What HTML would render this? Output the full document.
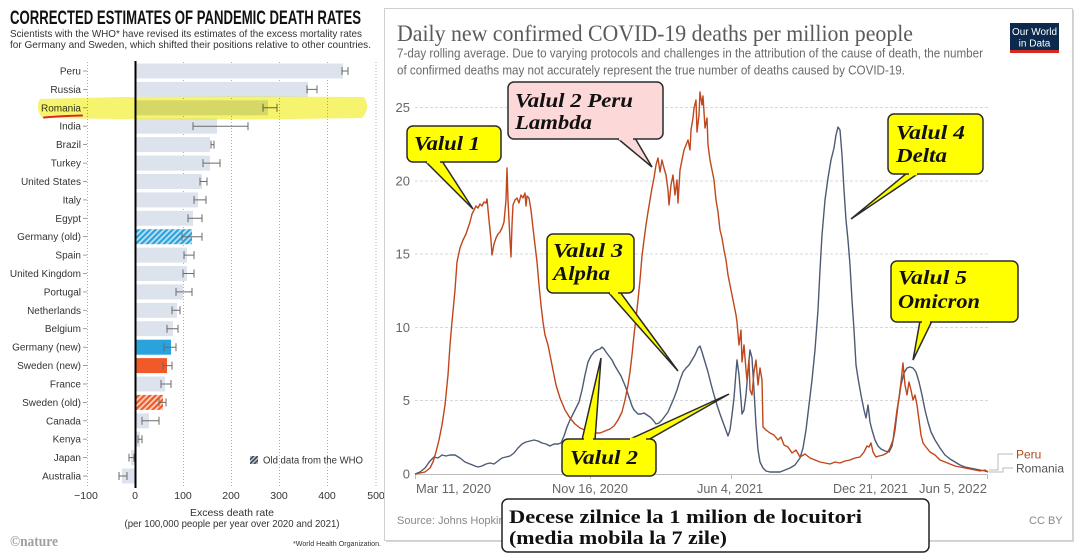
<!DOCTYPE html>
<html><head><meta charset="utf-8">
<style>
html,body{margin:0;padding:0;background:#fff;}
svg{display:block;}
.lab{font-family:"Liberation Sans",sans-serif;font-size:10px;fill:#333;text-anchor:end;}
.bar{fill:#dde3ec;}
.err{stroke:#6b6b6b;stroke-width:1;fill:none;}
.tk{stroke:#888;stroke-width:0.8;}
.co{font-family:"Liberation Serif",serif;font-weight:bold;font-style:italic;font-size:20px;fill:#111;}
.box{stroke:#2a2a2a;stroke-width:1.5;}
.hl{mix-blend-mode:multiply;}
</style></head><body>
<svg width="1080" height="556" viewBox="0 0 1080 556" xmlns="http://www.w3.org/2000/svg">
<defs>
<pattern id="hb" width="4" height="4" patternUnits="userSpaceOnUse" patternTransform="rotate(45)"><rect width="4" height="4" fill="#bfe2f4"/><rect width="2.2" height="4" fill="#2aa2dc"/></pattern>
<pattern id="ho" width="4" height="4" patternUnits="userSpaceOnUse" patternTransform="rotate(45)"><rect width="4" height="4" fill="#fcd2c2"/><rect width="2.2" height="4" fill="#f05a28"/></pattern>
<pattern id="hg" width="3" height="3" patternUnits="userSpaceOnUse" patternTransform="rotate(45)"><rect width="3" height="3" fill="#c9ced8"/><rect width="1.6" height="3" fill="#3d4556"/></pattern>
</defs>
<rect width="1080" height="556" fill="#fff"/>

<!-- ============ LEFT PANEL ============ -->
<text x="10" y="24" font-family="Liberation Sans Narrow, Liberation Sans, sans-serif" font-weight="bold" font-size="19" fill="#111" textLength="351" lengthAdjust="spacingAndGlyphs">CORRECTED ESTIMATES OF PANDEMIC DEATH RATES</text>
<text x="10" y="37" font-family="Liberation Sans, sans-serif" font-size="10.5" fill="#333" textLength="352" lengthAdjust="spacingAndGlyphs">Scientists with the WHO* have revised its estimates of the excess mortality rates</text>
<text x="10" y="48" font-family="Liberation Sans, sans-serif" font-size="10.5" fill="#333" textLength="361" lengthAdjust="spacingAndGlyphs">for Germany and Sweden, which shifted their positions relative to other countries.</text>

<!-- grid -->
<g stroke="#9a9a9a" stroke-width="0.8" stroke-dasharray="1,2">
<line x1="87.5" y1="62" x2="87.5" y2="487"/>
<line x1="183.5" y1="62" x2="183.5" y2="487"/>
<line x1="231.5" y1="62" x2="231.5" y2="487"/>
<line x1="279.5" y1="62" x2="279.5" y2="487"/>
<line x1="327.5" y1="62" x2="327.5" y2="487"/>
<line x1="376" y1="62" x2="376" y2="487"/>
</g>

<!-- rows -->
<g transform="translate(0,71)"><text class="lab" x="81" y="3.5">Peru</text><path class="tk" d="M83 0H87"/><rect class="bar" x="135" y="-7.5" width="208" height="15"/><path class="err" d="M342 0H348M342 -4V4M348 -4V4"/></g>
<g transform="translate(0,89.4)"><text class="lab" x="81" y="3.5">Russia</text><path class="tk" d="M83 0H87"/><rect class="bar" x="135" y="-7.5" width="173" height="15"/><path class="err" d="M307 0H317M307 -4V4M317 -4V4"/></g>
<g transform="translate(0,107.8)"><text class="lab" x="81" y="3.5">Romania</text><path class="tk" d="M83 0H87"/><rect class="bar" x="135" y="-7.5" width="133" height="15"/><path class="err" d="M263 0H277M263 -4V4M277 -4V4"/></g>
<g transform="translate(0,126.2)"><text class="lab" x="81" y="3.5">India</text><path class="tk" d="M83 0H87"/><rect class="bar" x="135" y="-7.5" width="82" height="15"/><path class="err" d="M193 0H248M193 -4V4M248 -4V4"/></g>
<g transform="translate(0,144.6)"><text class="lab" x="81" y="3.5">Brazil</text><path class="tk" d="M83 0H87"/><rect class="bar" x="135" y="-7.5" width="75" height="15"/><path class="err" d="M211 0H214M211 -4V4M214 -4V4"/></g>
<g transform="translate(0,163.1)"><text class="lab" x="81" y="3.5">Turkey</text><path class="tk" d="M83 0H87"/><rect class="bar" x="135" y="-7.5" width="75" height="15"/><path class="err" d="M203 0H220M203 -4V4M220 -4V4"/></g>
<g transform="translate(0,181.5)"><text class="lab" x="81" y="3.5">United States</text><path class="tk" d="M83 0H87"/><rect class="bar" x="135" y="-7.5" width="67" height="15"/><path class="err" d="M200 0H207M200 -4V4M207 -4V4"/></g>
<g transform="translate(0,199.9)"><text class="lab" x="81" y="3.5">Italy</text><path class="tk" d="M83 0H87"/><rect class="bar" x="135" y="-7.5" width="63" height="15"/><path class="err" d="M194 0H206M194 -4V4M206 -4V4"/></g>
<g transform="translate(0,218.3)"><text class="lab" x="81" y="3.5">Egypt</text><path class="tk" d="M83 0H87"/><rect class="bar" x="135" y="-7.5" width="58" height="15"/><path class="err" d="M188 0H202M188 -4V4M202 -4V4"/></g>
<g transform="translate(0,236.7)"><text class="lab" x="81" y="3.5">Germany (old)</text><path class="tk" d="M83 0H87"/><rect x="135" y="-7.5" width="57" height="15" fill="url(#hb)"/><path class="err" d="M182 0H202M182 -4V4M202 -4V4"/></g>
<g transform="translate(0,255.1)"><text class="lab" x="81" y="3.5">Spain</text><path class="tk" d="M83 0H87"/><rect class="bar" x="135" y="-7.5" width="52" height="15"/><path class="err" d="M184 0H194M184 -4V4M194 -4V4"/></g>
<g transform="translate(0,273.5)"><text class="lab" x="81" y="3.5">United Kingdom</text><path class="tk" d="M83 0H87"/><rect class="bar" x="135" y="-7.5" width="52" height="15"/><path class="err" d="M183 0H194M183 -4V4M194 -4V4"/></g>
<g transform="translate(0,291.9)"><text class="lab" x="81" y="3.5">Portugal</text><path class="tk" d="M83 0H87"/><rect class="bar" x="135" y="-7.5" width="48" height="15"/><path class="err" d="M176 0H192M176 -4V4M192 -4V4"/></g>
<g transform="translate(0,310.3)"><text class="lab" x="81" y="3.5">Netherlands</text><path class="tk" d="M83 0H87"/><rect class="bar" x="135" y="-7.5" width="42" height="15"/><path class="err" d="M172 0H180M172 -4V4M180 -4V4"/></g>
<g transform="translate(0,328.7)"><text class="lab" x="81" y="3.5">Belgium</text><path class="tk" d="M83 0H87"/><rect class="bar" x="135" y="-7.5" width="38" height="15"/><path class="err" d="M167 0H178M167 -4V4M178 -4V4"/></g>
<g transform="translate(0,347.2)"><text class="lab" x="81" y="3.5">Germany (new)</text><path class="tk" d="M83 0H87"/><rect x="135" y="-7.5" width="36" height="15" fill="#2aa2dc"/><path class="err" d="M164 0H176M164 -4V4M176 -4V4"/></g>
<g transform="translate(0,365.6)"><text class="lab" x="81" y="3.5">Sweden (new)</text><path class="tk" d="M83 0H87"/><rect x="135" y="-7.5" width="32" height="15" fill="#f05a28"/><path class="err" d="M163 0H172M163 -4V4M172 -4V4"/></g>
<g transform="translate(0,384)"><text class="lab" x="81" y="3.5">France</text><path class="tk" d="M83 0H87"/><rect class="bar" x="135" y="-7.5" width="30" height="15"/><path class="err" d="M161 0H171M161 -4V4M171 -4V4"/></g>
<g transform="translate(0,402.4)"><text class="lab" x="81" y="3.5">Sweden (old)</text><path class="tk" d="M83 0H87"/><rect x="135" y="-7.5" width="28" height="15" fill="url(#ho)"/><path class="err" d="M159 0H166M159 -4V4M166 -4V4"/></g>
<g transform="translate(0,420.8)"><text class="lab" x="81" y="3.5">Canada</text><path class="tk" d="M83 0H87"/><rect class="bar" x="135" y="-7.5" width="14" height="15"/><path class="err" d="M142 0H159M142 -4V4M159 -4V4"/></g>
<g transform="translate(0,439.2)"><text class="lab" x="81" y="3.5">Kenya</text><path class="tk" d="M83 0H87"/><rect class="bar" x="135" y="-7.5" width="5" height="15"/><path class="err" d="M138 0H142M138 -4V4M142 -4V4"/></g>
<g transform="translate(0,457.6)"><text class="lab" x="81" y="3.5">Japan</text><path class="tk" d="M83 0H87"/><rect class="bar" x="131" y="-7.5" width="4" height="15"/><path class="err" d="M129 0H134M129 -4V4M134 -4V4"/></g>
<g transform="translate(0,476)"><text class="lab" x="81" y="3.5">Australia</text><path class="tk" d="M83 0H87"/><rect class="bar" x="122" y="-7.5" width="13" height="15"/><path class="err" d="M119 0H127M119 -4V4M127 -4V4"/></g>

<!-- zero line -->
<line x1="135.5" y1="61" x2="135.5" y2="488" stroke="#000" stroke-width="2"/>

<!-- highlighter -->
<path class="hl" d="M40 99 Q35 108 42 118 L120 119 L250 119.5 L362 118 Q371 108 364 97 L250 96.5 L120 97 Z" fill="#f4f04a" opacity="0.8"/>
<path d="M44 117.5 Q60 116 82 115.5" stroke="#e02222" stroke-width="2" fill="none" stroke-linecap="round"/>

<!-- x tick labels -->
<g font-family="Liberation Sans, sans-serif" font-size="10.5" fill="#333" text-anchor="middle">
<text x="86" y="499">−100</text><text x="135" y="499">0</text><text x="183" y="499">100</text><text x="231" y="499">200</text><text x="279" y="499">300</text><text x="327" y="499">400</text><text x="376" y="499">500</text>
<text x="232" y="516">Excess death rate</text>
<text x="232" y="527" textLength="215" lengthAdjust="spacingAndGlyphs">(per 100,000 people per year over 2020 and 2021)</text>
</g>
<!-- legend -->
<rect x="250" y="456" width="8" height="8" fill="url(#hg)"/>
<text x="263" y="463.5" font-family="Liberation Sans, sans-serif" font-size="10" fill="#333" textLength="100" lengthAdjust="spacingAndGlyphs">Old data from the WHO</text>
<text x="10" y="546" font-family="Liberation Serif, serif" font-weight="bold" font-size="15" fill="#a0a0a0" textLength="48" lengthAdjust="spacingAndGlyphs">©nature</text>
<text x="293" y="546" font-family="Liberation Sans, sans-serif" font-size="7" fill="#333" textLength="88" lengthAdjust="spacingAndGlyphs">*World Health Organization.</text>

<!-- ============ RIGHT PANEL ============ -->
<rect x="386" y="10" width="688" height="532" fill="#d6d6d6"/>
<rect x="384.5" y="8.5" width="688" height="532" fill="#fff" stroke="#d0d0d0" stroke-width="1"/>

<text x="397" y="41" font-family="Liberation Serif, serif" font-size="23.5" fill="#5a5a5a" textLength="516" lengthAdjust="spacingAndGlyphs">Daily new confirmed COVID-19 deaths per million people</text>
<text x="397" y="57.5" font-family="Liberation Sans, sans-serif" font-size="12.5" fill="#6a6a6a" textLength="586" lengthAdjust="spacingAndGlyphs">7-day rolling average. Due to varying protocols and challenges in the attribution of the cause of death, the number</text>
<text x="397" y="74.5" font-family="Liberation Sans, sans-serif" font-size="12.5" fill="#6a6a6a" textLength="508" lengthAdjust="spacingAndGlyphs">of confirmed deaths may not accurately represent the true number of deaths caused by COVID-19.</text>

<!-- OWID logo -->
<rect x="1010" y="23" width="49" height="30" fill="#0b2a4e"/>
<rect x="1010" y="50" width="49" height="3" fill="#d42b21"/>
<text x="1034.5" y="35" font-family="Liberation Sans, sans-serif" font-size="10" fill="#fff" text-anchor="middle" textLength="45" lengthAdjust="spacingAndGlyphs">Our World</text>
<text x="1034.5" y="46.5" font-family="Liberation Sans, sans-serif" font-size="10" fill="#fff" text-anchor="middle">in Data</text>

<!-- grid -->
<g stroke="#d8d8d8" stroke-width="1" stroke-dasharray="3,2">
<line x1="415" y1="107.5" x2="988" y2="107.5"/>
<line x1="415" y1="181" x2="988" y2="181"/>
<line x1="415" y1="254" x2="988" y2="254"/>
<line x1="415" y1="327.5" x2="988" y2="327.5"/>
<line x1="415" y1="400.5" x2="988" y2="400.5"/>
</g>
<line x1="415" y1="474.5" x2="988" y2="474.5" stroke="#bbb" stroke-width="1"/>
<g stroke="#bbb"><line x1="590.5" y1="474" x2="590.5" y2="479"/><line x1="731.5" y1="474" x2="731.5" y2="479"/><line x1="871.5" y1="474" x2="871.5" y2="479"/><line x1="987.5" y1="474" x2="987.5" y2="479"/><line x1="415.5" y1="474" x2="415.5" y2="479"/></g>
<g font-family="Liberation Sans, sans-serif" font-size="13" fill="#666" text-anchor="end">
<text x="410" y="112">25</text><text x="410" y="185.5">20</text><text x="410" y="258.5">15</text><text x="410" y="332">10</text><text x="410" y="405">5</text><text x="410" y="478.5">0</text>
</g>
<g font-family="Liberation Sans, sans-serif" font-size="12.5" fill="#666">
<text x="416" y="493" textLength="75" lengthAdjust="spacingAndGlyphs">Mar 11, 2020</text>
<text x="552" y="493" textLength="76" lengthAdjust="spacingAndGlyphs">Nov 16, 2020</text>
<text x="697" y="493" textLength="66" lengthAdjust="spacingAndGlyphs">Jun 4, 2021</text>
<text x="833" y="493" textLength="75" lengthAdjust="spacingAndGlyphs">Dec 21, 2021</text>
<text x="919" y="493" textLength="68" lengthAdjust="spacingAndGlyphs">Jun 5, 2022</text>
</g>

<!-- series -->
<polyline fill="none" stroke="#4d5a73" stroke-width="1.4" stroke-linejoin="round" points="415,474 420,472 425,468 430,461 434,457 438,458 442,455 446,456 450,455 455,455 460,458 465,462 470,464 475,466 478,467 482,466 486,464 490,463 494,464 498,461 502,458 506,457 510,456 514,453 518,448 522,444 526,442 530,441 534,440 538,441 542,443 546,444 550,446 554,444 558,444 561,443 564,436 567,427 570,420 573,414 576,408 579,402 582,390 585,375 588,362 591,356 594,352 597,350 600,349 602,347 604,349 606,352 609,356 612,360 615,366 618,371 621,376 624,383 626,388 628,394 630,400 632,406 634,410 636,412 638,414 641,414 644,413 647,415 650,417 653,420 656,424 659,423 662,420 665,416 668,412 671,405 674,398 677,390 680,380 683,372 686,368 689,365 692,360 695,355 698,348 700,346 702,352 705,362 708,372 711,384 714,395 717,405 720,414 724,425 728,436 730,430 732,415 734,398 736,372 737,360 739,375 741,400 742,414 744,410 746,395 748,370 750,350 752,358 754,390 756,425 758,450 760,462 763,468 766,471 770,472 775,472 780,472 785,470 790,468 795,465 800,458 803,448 806,430 809,405 812,380 815,350 818,310 820,270 822,235 825,200 828,178 831,160 834,148 836,135 838,127 840,130 842,155 844,190 846,220 848,240 850,265 852,300 854,330 856,365 858,378 861,395 864,410 866,418 868,405 870,422 872,430 875,440 878,446 881,449 885,451 889,452 892,446 895,430 898,405 901,385 904,373 907,368 910,367 913,368 916,372 919,382 922,395 925,410 928,422 931,432 935,440 940,448 945,455 950,459 955,462 960,465 965,467 970,468 975,469 980,470 985,471 988,472"/>
<polyline fill="none" stroke="#c0461c" stroke-width="1.4" stroke-linejoin="round" points="415,474 420,473 425,472 430,468 433,462 436,452 439,440 442,425 445,405 448,375 450,345 452,322 455,290 457,262 460,248 463,240 466,234 468,228 470,222 472,214 474,210 476,206 478,208 480,204 482,206 484,202 486,203 487,199 489,220 491,240 492,255 494,244 496,238 498,234 500,232 502,228 504,222 506,200 507,168 508,200 510,240 511,257 512,225 513,205 515,200 517,198 519,203 521,195 523,198 525,193 526,206 527,196 529,198 531,210 533,228 535,245 537,262 539,285 541,305 543,322 545,335 548,345 552,365 556,385 560,398 565,410 570,418 575,424 580,428 585,430 590,432 595,433 600,433 605,431 610,429 614,426 618,420 622,412 625,400 628,385 630,372 632,355 634,335 636,318 638,300 640,280 642,256 644,240 646,225 648,212 650,200 652,188 654,178 656,165 658,158 660,172 662,160 664,168 666,175 668,190 669,205 671,185 673,175 675,195 677,180 678,203 680,170 682,160 684,150 686,145 688,140 690,150 691,130 693,118 694,108 696,100 697,132 699,115 700,92 702,105 703,96 705,128 707,118 708,145 710,160 712,170 714,180 716,200 718,212 720,230 722,238 724,250 726,260 728,275 730,285 732,295 734,305 736,315 737,322 739,345 741,330 742,362 744,345 746,370 747,380 749,360 750,390 752,395 754,372 756,360 758,385 760,368 762,380 763,427 766,430 770,433 774,435 778,440 781,437 784,445 788,447 792,453 796,450 800,457 805,454 810,458 815,460 820,462 825,463 830,464 835,462 840,463 845,461 850,460 855,458 860,457 864,452 867,446 869,447 871,443 873,452 876,457 879,456 883,455 887,453 890,448 893,440 895,425 897,410 899,398 901,382 903,363 905,385 907,395 909,382 911,390 913,400 915,395 917,405 919,420 921,435 923,443 926,447 930,452 935,455 940,460 945,462 950,464 955,466 960,467 965,468 970,469 975,470 980,471 985,470 988,472"/>

<!-- legend connectors -->
<path d="M989 470H998V454H1013M989 472H1003V468H1013" fill="none" stroke="#bbb" stroke-width="1"/>
<text x="1016" y="458.5" font-family="Liberation Sans, sans-serif" font-size="12" fill="#b5461c">Peru</text>
<text x="1016" y="472.5" font-family="Liberation Sans, sans-serif" font-size="12" fill="#555">Romania</text>

<text x="397" y="524" font-family="Liberation Sans, sans-serif" font-size="11" fill="#888">Source: Johns Hopkins</text>
<text x="1029" y="524" font-family="Liberation Sans, sans-serif" font-size="11" fill="#888">CC BY</text>

<!-- ============ CALLOUTS ============ -->
<!-- Valul 1 -->
<polygon class="box" points="425,161 442,161 473,209" fill="#ffff00"/>
<rect class="box" x="407" y="126" width="94" height="36" rx="6" fill="#ffff00"/>
<line x1="427" y1="162" x2="440" y2="162" stroke="#ffff00" stroke-width="2.5"/>
<text class="co" x="414" y="150" textLength="66" lengthAdjust="spacingAndGlyphs">Valul 1</text>

<!-- Valul 2 Peru Lambda -->
<polygon class="box" points="617,138 635,138 652,167" fill="#fcd8d8"/>
<rect class="box" x="508" y="82" width="155" height="57" rx="6" fill="#fcd8d8"/>
<line x1="619" y1="139" x2="633" y2="139" stroke="#fcd8d8" stroke-width="2.5"/>
<text class="co" x="515" y="107" font-size="19.5" textLength="118" lengthAdjust="spacingAndGlyphs">Valul 2 Peru</text>
<text class="co" x="515" y="129" font-size="19.5" textLength="77" lengthAdjust="spacingAndGlyphs">Lambda</text>

<!-- Valul 3 Alpha -->
<polygon class="box" points="608,292 620,292 678,371" fill="#ffff00"/>
<rect class="box" x="547" y="234" width="87" height="59" rx="6" fill="#ffff00"/>
<line x1="610" y1="293" x2="618" y2="293" stroke="#ffff00" stroke-width="2.5"/>
<text class="co" x="553" y="257" textLength="70" lengthAdjust="spacingAndGlyphs">Valul 3</text>
<text class="co" x="553" y="280" textLength="57" lengthAdjust="spacingAndGlyphs">Alpha</text>

<!-- Valul 4 Delta -->
<polygon class="box" points="907,173 919,173 851,219" fill="#ffff00"/>
<rect class="box" x="888" y="114" width="95" height="60" rx="6" fill="#ffff00"/>
<line x1="909" y1="174" x2="917" y2="174" stroke="#ffff00" stroke-width="2.5"/>
<text class="co" x="896" y="139" textLength="69" lengthAdjust="spacingAndGlyphs">Valul 4</text>
<text class="co" x="896" y="162" textLength="51" lengthAdjust="spacingAndGlyphs">Delta</text>

<!-- Valul 5 Omicron -->
<polygon class="box" points="920,321 932,321 913,360" fill="#ffff00"/>
<rect class="box" x="891" y="261" width="127" height="61" rx="6" fill="#ffff00"/>
<line x1="922" y1="322" x2="930" y2="322" stroke="#ffff00" stroke-width="2.5"/>
<text class="co" x="898" y="284" textLength="69" lengthAdjust="spacingAndGlyphs">Valul 5</text>
<text class="co" x="898" y="308" textLength="82" lengthAdjust="spacingAndGlyphs">Omicron</text>

<!-- Valul 2 bottom -->
<polygon class="box" points="582,440 595,440 601,358" fill="#ffff00"/>
<polygon class="box" points="628,440 648,440 729,394" fill="#ffff00"/>
<rect class="box" x="562" y="439" width="94" height="37" rx="6" fill="#ffff00"/>
<line x1="584" y1="439" x2="593" y2="439" stroke="#ffff00" stroke-width="2.5"/>
<line x1="630" y1="439" x2="646" y2="439" stroke="#ffff00" stroke-width="2.5"/>
<text class="co" x="570" y="464" textLength="68" lengthAdjust="spacingAndGlyphs">Valul 2</text>

<!-- bottom box -->
<rect x="502" y="499" width="427" height="53" rx="6" fill="#fff" stroke="#222" stroke-width="1.5"/>
<text x="509" y="523" font-family="Liberation Serif, serif" font-weight="bold" font-size="18.5" fill="#111" textLength="353" lengthAdjust="spacingAndGlyphs">Decese zilnice la 1 milion de locuitori</text>
<text x="509" y="544" font-family="Liberation Serif, serif" font-weight="bold" font-size="18.5" fill="#111" textLength="218" lengthAdjust="spacingAndGlyphs">(media mobila la 7 zile)</text>
</svg>
</body></html>
